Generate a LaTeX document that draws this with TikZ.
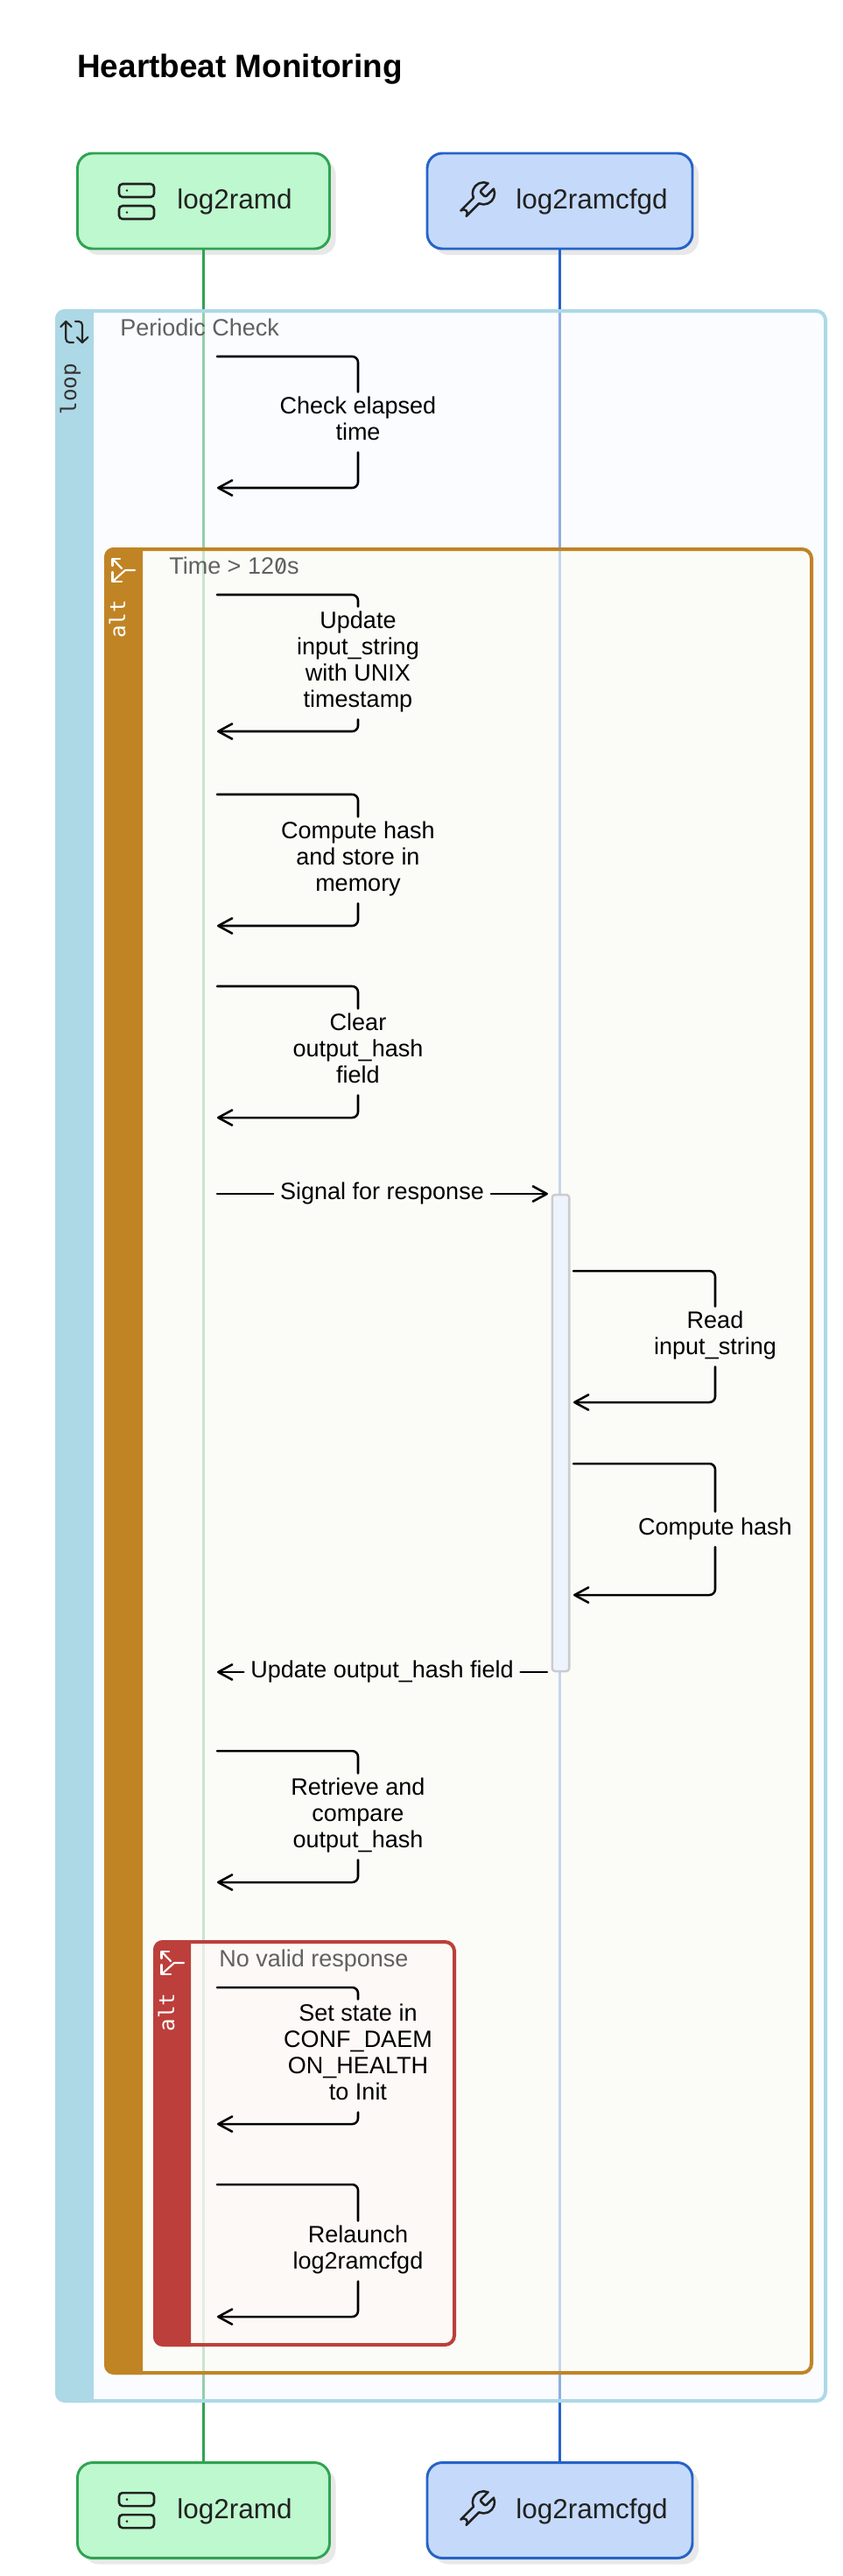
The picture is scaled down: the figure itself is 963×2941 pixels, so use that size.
\documentclass[tikz,border=0pt]{standalone}
\usepackage{fontspec}
\usepackage{tikz}
\usetikzlibrary{arrows.meta,shadows,svg.path}
\setmainfont{Liberation Sans}
\newfontfamily\sidefont{DejaVu Sans Mono}
\newfontfamily\slashfont[RawFeature=+zero]{Fira Sans}

\definecolor{ramdfill}{HTML}{BEF8CF}
\definecolor{ramdline}{HTML}{2EA450}
\definecolor{cfgdfill}{HTML}{C5DAFA}
\definecolor{cfgdline}{HTML}{2563C8}
\definecolor{loopline}{HTML}{ADD8E6}
\definecolor{loopfill}{HTML}{F7FBFF}
\definecolor{altline}{HTML}{C08425}
\definecolor{altfill}{HTML}{FDFDF3}
\definecolor{noneline}{HTML}{BC3F3B}
\definecolor{nonefill}{HTML}{FFF7F5}

\begin{document}
\begin{tikzpicture}[x=0.75pt, y=-0.75pt, >={Straight Barb[length=12pt, width=13pt, round]},
        actorbox/.style={draw, line width=2.2pt, rounded corners=13pt, outer sep=0pt, minimum height=81.75pt,
            drop shadow={shadow xshift=5.25pt, shadow yshift=-5.25pt, opacity=1, fill=black!9}},
        actorname/.style={anchor=base, inner sep=0pt, text=black!87, font=\fontsize{23.6pt}{26pt}\selectfont},
        lifeline/.style={line width=1.9pt},
        framebox/.style={line width=3pt, rounded corners=8pt, fill opacity=0.5},
        frametitle/.style={anchor=base west, inner sep=0pt, text=black!62, font=\fontsize{20.25pt}{24pt}\selectfont},
        sidename/.style={anchor=base, rotate=90, inner sep=0pt, font=\sidefont\fontsize{18.2pt}{20pt}\selectfont},
        msgline/.style={line width=1.9pt, line cap=round, rounded corners=5pt},
        msglabel/.style={align=center, inner xsep=6pt, inner ysep=3.9pt, outer sep=0pt,
            font=\fontsize{20.25pt}{22.5pt}\selectfont, execute at begin node=\strut, execute at end node=\strut},
        activation/.style={draw=black!20, fill=cfgdfill!30, line width=1.9pt, rounded corners=2.5pt, outer sep=0pt,
            minimum width=14.6pt, minimum height=408pt},
        serverpic/.pic={
            \draw[line width=1.9pt, black!87, rounded corners=3pt] (0,0) rectangle (40,15);
            \draw[line width=1.9pt, black!87, rounded corners=3pt] (0,25) rectangle (40,40);
            \fill[black!87] (9,7.5) circle (1.1pt);
            \fill[black!87] (9,32.5) circle (1.1pt);
        },
        wrenchpic/.pic={
            \draw[line width=1.9pt, black!87, line join=round, yscale=-1, scale=1.575]
                svg "M14.7 6.3a1 1 0 0 0 0 1.4l1.6 1.6a1 1 0 0 0 1.4 0l3.77-3.77a6 6 0 0 1-7.94 7.94l-6.91 6.91a2.12 2.12 0 0 1-3-3l6.91-6.91a6 6 0 0 1 7.94-7.94l-3.76 3.76z";
        },
        branchpic/.pic={
            \draw[line width=1.6pt, white, line cap=round, line join=round] (25.5,0) -- (14.5,0) -- (0,13);
            \draw[line width=1.6pt, white, line cap=round, line join=round] (0,2) -- (0,13) -- (10.5,13);
            \draw[line width=1.6pt, white, line cap=round, line join=round] (0,-5) -- (0,-13) -- (8.5,-13);
            \draw[line width=1.6pt, white, line cap=round] (0,-13) -- (10.5,-2);
        }]
        \useasboundingbox (0,0) rectangle (963,2941);
        \fill[white] (0,0) rectangle (963,2941);

        % Title
        \node[anchor=base west, inner sep=0pt, font=\bfseries\fontsize{27.7pt}{32pt}\selectfont] (title) at (88,88) {Heartbeat Monitoring};

        % Actors
        \node[actorbox, minimum width=216pt, draw=ramdline, fill=ramdfill] (ramdtop) at (232.5,229.5) {};
        \node[actorbox, minimum width=227.25pt, draw=cfgdline, fill=cfgdfill] (cfgdtop) at (639.5,229.5) {};
        \node[actorbox, minimum width=216pt, draw=ramdline, fill=ramdfill] (ramdbot) at (232.5,2866) {};
        \node[actorbox, minimum width=227.25pt, draw=cfgdline, fill=cfgdfill] (cfgdbot) at (639.5,2866) {};

        \node[actorname] (ramdtopname) at (268,238) {log2ramd};
        \node[actorname] (cfgdtopname) at (676,238) {log2ramcfgd};
        \node[actorname] (ramdbotname) at (268,2875) {log2ramd};
        \node[actorname] (cfgdbotname) at (676,2875) {log2ramcfgd};

        \pic at (136,210) {serverpic};
        \pic at (136,2846) {serverpic};
        \pic at (518.8,204) {wrenchpic};
        \pic at (518.8,2840) {wrenchpic};

        % Lifelines
        \draw[lifeline, ramdline] (ramdtop.south) -- (ramdbot.north);
        \draw[lifeline, cfgdline] (cfgdtop.south) -- (cfgdbot.north);

        % Loop frame
        \draw[framebox, draw=loopline, fill=loopfill, draw opacity=1] (65,355) rectangle (943,2741);
        \fill[loopline] (107,353) [rounded corners=8pt] -- (63,353) -- (63,2743) [sharp corners] -- (107,2743) -- cycle;
        \node[frametitle] (looptitle) at (137,383) {Periodic Check};
        \node[sidename, text=black!80] (loopname) at (87,444) {loop};
        \draw[line width=1.6pt, black!85, line cap=round, line join=round, rounded corners=3pt] (75.3,367) -- (75.3,391) -- (84,391);
        \draw[line width=1.6pt, black!85, line cap=round, line join=round] (69.3,373) -- (75.3,367) -- (81.7,373);
        \draw[line width=1.6pt, black!85, line cap=round, line join=round, rounded corners=3pt] (86,367) -- (94,367) -- (94,391);
        \draw[line width=1.6pt, black!85, line cap=round, line join=round] (88,385) -- (94,391) -- (100.5,385);

        % Outer alt frame
        \draw[framebox, draw=altline, fill=altfill, draw opacity=1] (121,627) rectangle (927,2709);
        \fill[altline] (163,625) [rounded corners=8pt] -- (119,625) -- (119,2711) [sharp corners] -- (163,2711) -- cycle;
        \node[frametitle] (alttitle) at (193,655) {Time > 12{\slashfont 0}s};
        \node[sidename, text=white] (altname) at (143,707) {alt};
        \pic at (128.5,651) {branchpic};

        % Inner alt frame
        \draw[framebox, draw=noneline, fill=nonefill, draw opacity=1] (177,2217) rectangle (519,2677);
        \fill[noneline] (218,2215) [rounded corners=8pt] -- (175,2215) -- (175,2679) [sharp corners] -- (218,2679) -- cycle;
        \node[frametitle] (nonetitle) at (250,2245) {No valid response};
        \node[sidename, text=white] (nonename) at (199,2297.5) {alt};
        \pic at (184.5,2241) {branchpic};

        % Activation on log2ramcfgd
        \node[activation] (cfgdact) at (640.5,1636) {};

        % Check elapsed time
        \coordinate (chkfrom) at (248,407);
        \coordinate (chkto) at (248,557);
        \node[msglabel] (chklabel) at (409,482) {Check elapsed\\time};
        \draw[msgline] (chkfrom) -| (chklabel.north);
        \draw[msgline, ->] (chklabel.south) |- (chkto);

        % Update input_string
        \coordinate (updfrom) at (248,679);
        \coordinate (updto) at (248,835);
        \node[msglabel] (updlabel) at (409,757) {Update\\input\_string\\with UNIX\\timestamp};
        \draw[msgline] (updfrom) -| (updlabel.north);
        \draw[msgline, ->] (updlabel.south) |- (updto);

        % Compute hash and store
        \coordinate (cmpfrom) at (248,907);
        \coordinate (cmpto) at (248,1057);
        \node[msglabel] (cmplabel) at (409,982) {Compute hash\\and store in\\memory};
        \draw[msgline] (cmpfrom) -| (cmplabel.north);
        \draw[msgline, ->] (cmplabel.south) |- (cmpto);

        % Clear output_hash
        \coordinate (clrfrom) at (248,1126);
        \coordinate (clrto) at (248,1276);
        \node[msglabel] (clrlabel) at (409,1201) {Clear\\output\_hash\\field};
        \draw[msgline] (clrfrom) -| (clrlabel.north);
        \draw[msgline, ->] (clrlabel.south) |- (clrto);

        % Signal for response
        \coordinate (sigfrom) at (248,1363);
        \coordinate (sigto) at (626,1363);
        \node[msglabel] (siglabel) at (436.5,1363) {Signal for response};
        \draw[msgline] (sigfrom) -- (siglabel.west);
        \draw[msgline, ->] (siglabel.east) -- (sigto);

        % Read input_string
        \coordinate (readfrom) at (655,1451);
        \coordinate (readto) at (655,1601);
        \node[msglabel] (readlabel) at (817,1526) {Read\\input\_string};
        \draw[msgline] (readfrom) -| (readlabel.north);
        \draw[msgline, ->] (readlabel.south) |- (readto);

        % Compute hash
        \coordinate (hashfrom) at (655,1671);
        \coordinate (hashto) at (655,1821);
        \node[msglabel] (hashlabel) at (817,1746) {Compute hash};
        \draw[msgline] (hashfrom) -| (hashlabel.north);
        \draw[msgline, ->] (hashlabel.south) |- (hashto);

        % Update output_hash field
        \coordinate (backfrom) at (625,1909);
        \coordinate (backto) at (248,1909);
        \node[msglabel] (backlabel) at (436.5,1909) {Update output\_hash field};
        \draw[msgline] (backfrom) -- (backlabel.east);
        \draw[msgline, ->] (backlabel.west) -- (backto);

        % Retrieve and compare
        \coordinate (retfrom) at (248,1999);
        \coordinate (retto) at (248,2149);
        \node[msglabel] (retlabel) at (409,2074) {Retrieve and\\compare\\output\_hash};
        \draw[msgline] (retfrom) -| (retlabel.north);
        \draw[msgline, ->] (retlabel.south) |- (retto);

        % Set state
        \coordinate (setfrom) at (248,2269);
        \coordinate (setto) at (248,2425);
        \node[msglabel] (setlabel) at (409,2347) {Set state in\\CONF\_DAEM\\ON\_HEALTH\\to Init};
        \draw[msgline] (setfrom) -| (setlabel.north);
        \draw[msgline, ->] (setlabel.south) |- (setto);

        % Relaunch
        \coordinate (relfrom) at (248,2494);
        \coordinate (relto) at (248,2645);
        \node[msglabel] (rellabel) at (409,2570) {Relaunch\\log2ramcfgd};
        \draw[msgline] (relfrom) -| (rellabel.north);
        \draw[msgline, ->] (rellabel.south) |- (relto);
    \end{tikzpicture}
\end{document}
